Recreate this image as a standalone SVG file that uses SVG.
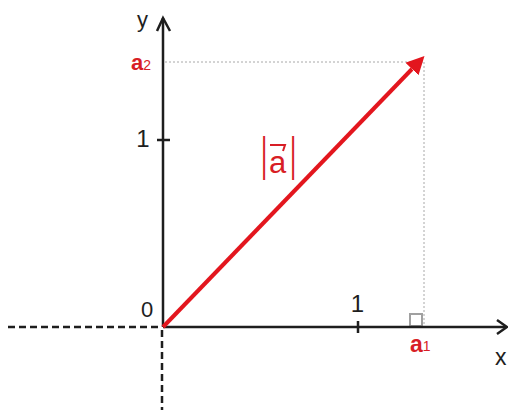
<svg xmlns="http://www.w3.org/2000/svg" width="508" height="410" viewBox="0 0 508 410">
<style>
.ax{stroke:#1e1e1e;stroke-width:2.5;fill:none}
.dash{stroke:#1e1e1e;stroke-width:2.5;stroke-dasharray:7 4;fill:none}
.guide{stroke:#a8a8a8;stroke-width:1;stroke-dasharray:2 2;fill:none}
.t{font-family:"Liberation Sans",Arial,sans-serif;fill:#1e1e1e}
.r{font-family:"Liberation Sans",Arial,sans-serif;fill:#d81e26}
.b{font-weight:bold}
</style>
<defs>
<marker id="vh" markerUnits="userSpaceOnUse" markerWidth="20" markerHeight="20" refX="0" refY="9" orient="auto">
<path d="M0,0 L18,9 L0,18 Z" fill="#e3161e"/>
</marker>
</defs>
<rect width="508" height="410" fill="#ffffff"/>
<g id="guides">
<line class="guide" x1="165" y1="62" x2="424" y2="62"/>
<line class="guide" x1="424" y1="62" x2="424" y2="326"/>
<rect x="410" y="314" width="12" height="12" fill="none" stroke="#a0a0a0" stroke-width="2"/>
</g>
<g id="axes">
<line class="dash" x1="8" y1="327" x2="162" y2="327"/>
<line class="dash" x1="162" y1="330" x2="162" y2="410"/>
<line class="ax" x1="163" y1="327" x2="506" y2="327"/>
<polyline class="ax" points="497,320 507,327 497,334"/>
<line class="ax" x1="163" y1="327" x2="163" y2="18"/>
<polyline class="ax" points="157,31 163,18 170,31"/>
<line class="ax" x1="358" y1="321" x2="358" y2="333"/>
<line class="ax" x1="157" y1="140" x2="170" y2="140"/>
</g>
<g id="vector">
<line x1="163" y1="327" x2="412" y2="69" stroke="#e3161e" stroke-width="4" marker-end="url(#vh)"/>
</g>
<g id="labels">
<text class="t" x="137" y="27" font-size="22">y</text>
<text class="t" x="495" y="365" font-size="23">x</text>
<text class="t" x="147" y="317" font-size="22" text-anchor="middle">0</text>
<text class="t" x="357.5" y="312" font-size="24" text-anchor="middle">1</text>
<text class="t" x="143" y="147" font-size="24" text-anchor="middle">1</text>
<text class="r" x="131" y="70" font-size="22"><tspan class="b">a</tspan><tspan font-size="14">2</tspan></text>
<text class="r" x="410" y="352" font-size="23"><tspan class="b">a</tspan><tspan font-size="14" dy="-1">1</tspan></text>
</g>
<g id="magnitude">
<text class="r" font-size="24" text-anchor="middle" transform="translate(264,170) scale(1,1.9)">|</text>
<text class="r" font-size="24" text-anchor="middle" transform="translate(293,170) scale(1,1.9)">|</text>
<text class="r" x="269" y="173" font-size="31">a</text>
<path d="M270,145 L285,145 L283,151" fill="none" stroke="#d81e26" stroke-width="2"/>
</g>
</svg>
